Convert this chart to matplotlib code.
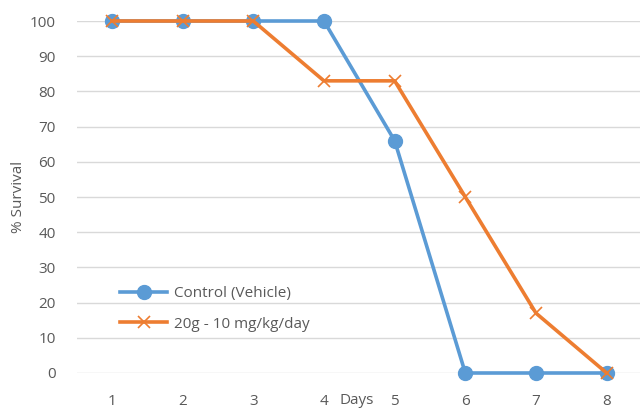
import matplotlib
matplotlib.use("Agg")
import matplotlib.pyplot as plt

days = [1, 2, 3, 4, 5, 6, 7, 8]
control = [100, 100, 100, 100, 66, 0, 0, 0]
treated = [100, 100, 100, 83, 83, 50, 17, 0]
yticks = [0, 10, 20, 30, 40, 50, 60, 70, 80, 90, 100]

plt.rcParams['font.family'] = ['Open Sans', 'DejaVu Sans']
txt = '#595959'
blue = '#5B9BD5'
orange = '#ED7D31'

fig = plt.figure(figsize=(6.4, 4.09), dpi=100)
ax = fig.add_axes([76.6/640, 1-373/409, (642-76.6)/640, (373-21)/409])
ax.set_xlim(0.5, 8.5)
ax.set_ylim(0, 100)
ax.set_yticks(yticks)
ax.set_xticks(days)
ax.grid(axis='y', color='#d9d9d9', lw=1.0)
ax.set_axisbelow(True)
for s in ax.spines.values():
    s.set_visible(False)
ax.tick_params(length=0, labelsize=11, labelcolor=txt)
ax.tick_params(axis='y', pad=15)
ax.tick_params(axis='x', pad=15)

ax.plot(days, control, color=blue, lw=2.6, marker='o', ms=10, clip_on=False,
        label='Control (Vehicle)', zorder=3)
ax.plot(days, treated, color=orange, lw=2.6, marker='x', ms=9, mew=1.2, clip_on=False,
        label='20g - 10 mg/kg/day', zorder=4)

leg = ax.legend(loc='upper left', bbox_to_anchor=(0.053, 0.285), frameon=False,
                fontsize=11, labelcolor=txt, handlelength=3.07, labelspacing=1.0,
                handletextpad=0.45)

fig.text(357/640, 1-401/409, 'Days', ha='center', va='center', fontsize=11, color=txt)
fig.text(19/640, 1-197/409, '% Survival', ha='center', va='center', rotation=90,
         fontsize=11, color=txt)

fig.savefig('out.png', dpi=100)
